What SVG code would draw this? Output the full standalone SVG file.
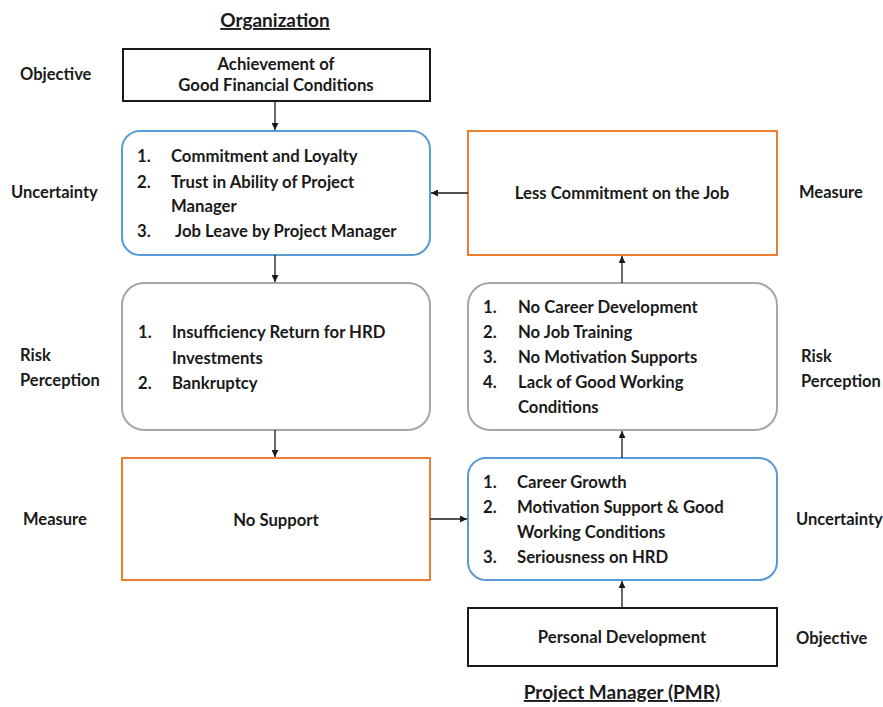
<svg xmlns="http://www.w3.org/2000/svg" width="883" height="707" viewBox="0 0 883 707">
  <style>
    text { font-family: Lato, "Open Sans", "Liberation Sans", sans-serif; font-weight: 700; fill: #1a1a1a; }
    .t { font-size: 16.7px; }
    .lbl { font-size: 16.5px; }
    .title { font-size: 19px; text-decoration: underline; }
    .mid { text-anchor: middle; }
    .blk { fill: #fff; stroke: #1a1a1a; stroke-width: 2; }
    .unc { fill: #fff; stroke: #5B9BD5; stroke-width: 2; }
    .rsk { fill: #fff; stroke: #A6A6A6; stroke-width: 2; }
    .msr { fill: #fff; stroke: #ED7D31; stroke-width: 2; }
    .edge { stroke: #1a1a1a; stroke-width: 1.3; fill: none; marker-end: url(#arr); }
  </style>
  <defs>
    <marker id="arr" viewBox="0 0 10 10" refX="10" refY="5" markerWidth="7" markerHeight="7" markerUnits="userSpaceOnUse" orient="auto">
      <path d="M0,0 L10,5 L0,10 z" fill="#1a1a1a"/>
    </marker>
  </defs>
  <rect width="883" height="707" fill="#fff"/>

  <!-- side headings -->
  <g id="headings">
    <text class="title mid" x="275" y="27">Organization</text>
    <text class="title mid" x="622" y="699">Project Manager (PMR)</text>
    <text class="lbl" x="20" y="80">Objective</text>
    <text class="lbl" x="11" y="198">Uncertainty</text>
    <text class="lbl" x="20" y="361">Risk</text>
    <text class="lbl" x="20" y="386">Perception</text>
    <text class="lbl" x="23" y="525">Measure</text>
    <text class="lbl" x="799" y="198">Measure</text>
    <text class="lbl" x="801" y="362">Risk</text>
    <text class="lbl" x="801" y="387">Perception</text>
    <text class="lbl" x="796" y="525">Uncertainty</text>
    <text class="lbl" x="796" y="644">Objective</text>
  </g>

  <!-- organization column -->
  <g id="org-objective">
    <rect class="blk" x="123" y="49" width="307" height="52"/>
    <text class="t mid" x="276" y="70">Achievement of</text>
    <text class="t mid" x="276" y="91">Good Financial Conditions</text>
  </g>
  <g id="org-uncertainty">
    <rect class="unc" x="122" y="131" width="308" height="124" rx="18"/>
    <text class="t" x="137" y="162">1.</text><text class="t" x="171" y="162">Commitment and Loyalty</text>
    <text class="t" x="137" y="188">2.</text><text class="t" x="171" y="188">Trust in Ability of Project</text>
    <text class="t" x="171" y="212">Manager</text>
    <text class="t" x="137" y="237">3.</text><text class="t" x="175" y="237">Job Leave by Project Manager</text>
  </g>
  <g id="org-risk">
    <rect class="rsk" x="122" y="283" width="308" height="147" rx="22"/>
    <text class="t" x="138" y="338">1.</text><text class="t" x="172" y="338">Insufficiency Return for HRD</text>
    <text class="t" x="172" y="364">Investments</text>
    <text class="t" x="138" y="389">2.</text><text class="t" x="172" y="389">Bankruptcy</text>
  </g>
  <g id="org-measure">
    <rect class="msr" x="122" y="458" width="308" height="122"/>
    <text class="t mid" x="276" y="526">No Support</text>
  </g>

  <!-- project manager column -->
  <g id="pmr-measure">
    <rect class="msr" x="468" y="131" width="309" height="124"/>
    <text class="t mid" x="622" y="199">Less Commitment on the Job</text>
  </g>
  <g id="pmr-risk">
    <rect class="rsk" x="468" y="283" width="309" height="147" rx="22"/>
    <text class="t" x="483" y="313">1.</text><text class="t" x="518" y="313">No Career Development</text>
    <text class="t" x="483" y="338">2.</text><text class="t" x="518" y="338">No Job Training</text>
    <text class="t" x="483" y="363">3.</text><text class="t" x="518" y="363">No Motivation Supports</text>
    <text class="t" x="483" y="388">4.</text><text class="t" x="518" y="388">Lack of Good Working</text>
    <text class="t" x="518" y="413">Conditions</text>
  </g>
  <g id="pmr-uncertainty">
    <rect class="unc" x="468" y="458" width="309" height="122" rx="18"/>
    <text class="t" x="483" y="488">1.</text><text class="t" x="517" y="488">Career Growth</text>
    <text class="t" x="483" y="513">2.</text><text class="t" x="517" y="513">Motivation Support &amp; Good</text>
    <text class="t" x="517" y="538">Working Conditions</text>
    <text class="t" x="483" y="563">3.</text><text class="t" x="517" y="563">Seriousness on HRD</text>
  </g>
  <g id="pmr-objective">
    <rect class="blk" x="468" y="608" width="309" height="58"/>
    <text class="t mid" x="622" y="643">Personal Development</text>
  </g>

  <!-- connectors -->
  <g id="connectors">
    <line class="edge" x1="275" y1="101" x2="275" y2="130"/>
    <line class="edge" x1="275" y1="255" x2="275" y2="282"/>
    <line class="edge" x1="275" y1="430" x2="275" y2="457"/>
    <line class="edge" x1="430" y1="519" x2="467" y2="519"/>
    <line class="edge" x1="622" y1="608" x2="622" y2="581"/>
    <line class="edge" x1="622" y1="458" x2="622" y2="431"/>
    <line class="edge" x1="622" y1="283" x2="622" y2="256"/>
    <line class="edge" x1="468" y1="193" x2="431" y2="193"/>
  </g>
</svg>
